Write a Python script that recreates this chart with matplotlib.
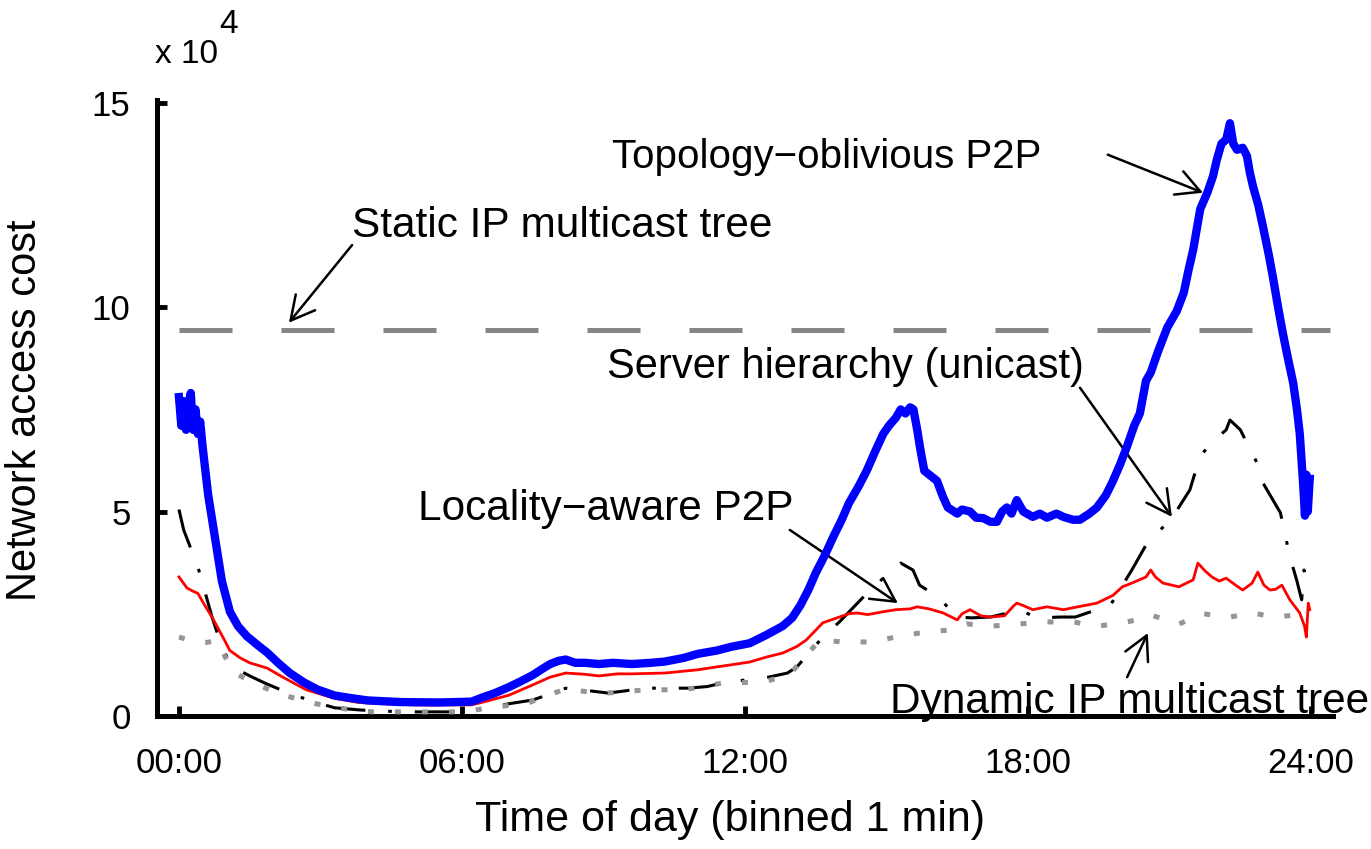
import matplotlib
matplotlib.use("Agg")
import matplotlib.pyplot as plt

plt.rcParams['font.family'] = ['Liberation Sans', 'DejaVu Sans']

# time of day in hours, network access cost in units of 1e4
t_topo = [0.0, 0.05, 0.1, 0.15, 0.2, 0.25, 0.3, 0.35, 0.4, 0.45, 0.5, 0.62, 0.8, 0.91, 1.08,
          1.25, 1.44, 1.65, 1.87, 2.1, 2.35, 2.65, 2.93, 3.3, 3.63, 4.0, 4.7, 5.5, 6.2, 6.45,
          6.7, 7.0, 7.25, 7.5, 7.7, 7.87, 8.05, 8.2, 8.4, 8.6, 8.9, 9.2, 9.6, 10.0, 10.3,
          10.7, 11.0, 11.4, 11.7, 12.1, 12.45, 12.8, 13.0, 13.17, 13.35, 13.5, 13.7, 13.87,
          14.05, 14.2, 14.4, 14.58, 14.75, 14.93, 15.05, 15.2, 15.3, 15.4, 15.5, 15.57,
          15.65, 15.72, 15.8, 16.07, 16.2, 16.3, 16.5, 16.6, 16.77, 16.9, 17.05, 17.2,
          17.34, 17.45, 17.55, 17.65, 17.76, 17.9, 18.1, 18.25, 18.4, 18.6, 18.75, 18.95,
          19.1, 19.3, 19.46, 19.65, 19.8, 19.95, 20.1, 20.25, 20.37, 20.5, 20.6, 20.75,
          20.95, 21.15, 21.3, 21.4, 21.5, 21.65, 21.8, 21.92, 22.0, 22.1, 22.2, 22.28,
          22.35, 22.43, 22.55, 22.64, 22.7, 22.77, 22.88, 22.98, 23.1, 23.19, 23.3, 23.4,
          23.5, 23.62, 23.7, 23.76, 23.83, 23.87, 23.9, 23.93, 23.97]
topo = [7.8, 7.1, 7.7, 7.0, 7.6, 7.9, 7.0, 7.5, 6.9, 7.2, 6.6, 5.4, 4.1, 3.3, 2.55,
        2.2, 1.95, 1.75, 1.55, 1.3, 1.05, 0.82, 0.65, 0.5, 0.44, 0.38, 0.34, 0.33, 0.35, 0.46,
        0.56, 0.71, 0.85, 1.0, 1.15, 1.27, 1.35, 1.38, 1.3, 1.3, 1.27, 1.3, 1.27, 1.3, 1.33,
        1.42, 1.52, 1.6, 1.69, 1.78, 1.98, 2.2, 2.4, 2.7, 3.1, 3.5, 3.95, 4.38,
        4.8, 5.2, 5.6, 6.0, 6.45, 6.9, 7.1, 7.3, 7.5, 7.4, 7.55, 7.5,
        7.0, 6.5, 6.0, 5.75, 5.35, 5.1, 4.95, 5.05, 5.0, 4.85, 4.84, 4.75,
        4.75, 5.0, 5.1, 4.95, 5.28, 5.0, 4.87, 4.95, 4.85, 4.95, 4.87, 4.8,
        4.8, 4.95, 5.1, 5.4, 5.75, 6.15, 6.6, 7.1, 7.4, 8.2, 8.4, 8.9,
        9.5, 9.9, 10.35, 10.9, 11.4, 12.4, 12.8, 13.2, 13.6, 14.0, 14.1, 14.5,
        14.0, 13.85, 13.9, 13.7, 13.3, 12.95, 12.5, 11.97, 11.3, 10.74, 10.0, 9.37,
        8.8, 8.15, 7.5, 6.9, 5.7, 4.9, 5.9, 5.0, 5.8]

t_local = [0.0, 0.17, 0.3, 0.4, 0.55, 0.7, 0.93, 1.08, 1.3, 1.5, 1.87, 2.2, 2.7, 3.27, 3.8,
           4.3, 5.0, 6.2, 6.45, 7.0, 7.5, 7.87, 8.2, 8.6, 8.9, 9.3, 9.6, 10.3, 11.0, 11.4,
           11.7, 12.1, 12.45, 12.8, 13.1, 13.3, 13.5, 13.65, 13.95, 14.2, 14.37, 14.6,
           14.93, 15.2, 15.5, 15.65, 15.9, 16.2, 16.5, 16.6, 16.77, 17.0, 17.2, 17.5, 17.7,
           17.76, 17.9, 18.1, 18.4, 18.75, 19.1, 19.46, 19.8, 20.0, 20.2, 20.5, 20.6, 20.7,
           20.86, 21.2, 21.5, 21.6, 21.75, 21.9, 22.05, 22.2, 22.4, 22.55, 22.75, 22.87,
           23.0, 23.13, 23.25, 23.38, 23.55, 23.76, 23.86, 23.9, 23.94, 23.97]
local = [3.4, 3.13, 3.05, 3.0, 2.7, 2.42, 1.93, 1.6, 1.42, 1.3, 1.17, 0.95, 0.64, 0.44, 0.33,
         0.3, 0.27, 0.27, 0.34, 0.51, 0.76, 0.95, 1.05, 1.02, 0.98, 1.03, 1.03, 1.05, 1.13, 1.2,
         1.25, 1.32, 1.44, 1.54, 1.7, 1.86, 2.1, 2.28, 2.4, 2.5, 2.52, 2.48,
         2.55, 2.6, 2.62, 2.67, 2.62, 2.52, 2.35, 2.5, 2.6, 2.45, 2.42, 2.45, 2.7,
         2.76, 2.7, 2.6, 2.67, 2.6, 2.68, 2.76, 2.95, 3.16, 3.25, 3.4, 3.57, 3.4,
         3.25, 3.16, 3.33, 3.74, 3.55, 3.4, 3.3, 3.37, 3.2, 3.08, 3.25, 3.52,
         3.2, 3.08, 3.1, 3.2, 2.84, 2.52, 2.2, 1.93, 2.76, 2.6]

t_server = [0.0, 0.1, 0.25, 0.4, 0.5, 0.7, 0.91, 1.08, 1.3, 1.5, 1.83, 2.2, 2.6, 3.0, 3.3,
            3.8, 4.2, 5.0, 5.9, 6.3, 6.6, 7.0, 7.5, 7.9, 8.2, 8.6, 9.1, 9.5, 9.8, 10.3, 10.8,
            11.2, 11.5, 12.0, 12.5, 12.9, 13.1, 13.4, 13.65, 14.0, 14.5, 15.0, 15.3, 15.56,
            15.7, 15.9, 16.1, 16.5, 16.8, 17.2, 17.5, 17.8, 18.2, 18.7, 19.0, 19.46, 19.74,
            19.95, 20.2, 20.5, 20.7, 21.05, 21.43, 21.58, 21.7, 22.0, 22.2, 22.28, 22.5,
            22.85, 22.98, 23.35, 23.45, 23.55, 23.7, 23.8, 23.85, 23.95]
server = [5.05, 4.55, 4.1, 3.65, 3.25, 2.42, 1.69, 1.3, 1.1, 0.98, 0.8, 0.62, 0.45, 0.3, 0.2,
          0.15, 0.12, 0.1, 0.1, 0.15, 0.22, 0.3, 0.39, 0.55, 0.68, 0.63, 0.56, 0.62, 0.68, 0.68, 0.68,
          0.72, 0.8, 0.88, 0.95, 1.05, 1.2, 1.6, 1.93, 2.3, 2.9, 3.45, 3.74, 3.57,
          3.2, 3.05, 2.9, 2.42, 2.4, 2.42, 2.5, 2.6, 2.4, 2.42, 2.42, 2.6, 2.7,
          3.1, 3.57, 4.18, 4.43, 4.84, 5.53, 6.1, 6.43, 6.8, 7.0, 7.24, 7.0,
          6.2, 5.7, 4.97, 4.43, 3.9, 3.3, 2.84, 3.57, 3.08]

t_dyn = [0.0, 0.38, 0.6, 0.8, 1.0, 1.15, 1.5, 1.78, 2.1, 2.5, 2.9, 3.27, 3.7, 4.1, 5.0,
         6.0, 6.3, 6.6, 7.0, 7.45, 7.8, 8.2, 8.6, 9.07, 9.5, 9.9, 10.7, 11.1, 11.5, 12.0,
         12.4, 12.75, 13.0, 13.3, 13.6, 14.08, 14.65, 15.2, 15.7, 16.3, 16.7, 17.25, 17.8,
         18.4, 18.95, 19.5, 20.0, 20.3, 20.6, 21.2, 21.7, 22.28, 22.77, 23.2, 23.7, 23.95]
dyn = [1.93, 1.8, 1.8, 1.85, 1.4, 1.08, 0.85, 0.71, 0.55, 0.42, 0.3, 0.22, 0.14, 0.1, 0.1,
       0.1, 0.15, 0.2, 0.26, 0.34, 0.5, 0.66, 0.6, 0.56, 0.6, 0.64, 0.64, 0.72, 0.8, 0.82,
       0.83, 0.95, 1.08, 1.5, 1.86, 1.81, 1.81, 1.93, 2.03, 2.1, 2.25, 2.2, 2.25,
       2.3, 2.3, 2.2, 2.28, 2.35, 2.47, 2.25, 2.5, 2.42, 2.52, 2.42, 2.47, 2.45]

static_level = 9.45

x_ticks = [0, 6, 12, 18, 24]
x_ticklabels = ['00:00', '06:00', '12:00', '18:00', '24:00']
y_ticks = [0, 5, 10, 15]

fig = plt.figure(figsize=(13.71, 8.49), dpi=100)
ax = fig.add_axes([0.1145, 0.1567, 0.8578, 0.7256])

# static tree (flat dashed line)
ax.plot([0, 24.4], [static_level, static_level], color='#858585', lw=3.6,
        dashes=(10.6, 9.8), zorder=2)
# server hierarchy
ax.plot(t_server, server, color='black', lw=2.2, dashes=(13, 7.5, 1.2, 7.5),
        zorder=3)
# dynamic tree
ax.plot(t_dyn, dyn, color='#959595', lw=3.6, dashes=(1.2, 4.2), zorder=4)
# locality aware
ax.plot(t_local, local, color='#ff0000', lw=2.0, zorder=5)
# topology oblivious
ax.plot(t_topo, topo, color='#0000ff', lw=6.0, solid_joinstyle='round', zorder=6)

ax.set_xlim(-0.466, 24.465)
ax.set_ylim(0, 15.07)
ax.set_xticks(x_ticks)
ax.set_xticklabels(x_ticklabels)
ax.set_yticks(y_ticks)

for side in ['top', 'right']:
    ax.spines[side].set_visible(False)
for side in ['left', 'bottom']:
    ax.spines[side].set_linewidth(3.6)
ax.tick_params(direction='in', length=7.5, width=3.5, labelsize=25)
ax.tick_params(axis='x', pad=22)
ax.tick_params(axis='y', pad=19)

ax.set_xlabel('Time of day (binned 1 min)', fontsize=31)
ax.set_ylabel('Network access cost', fontsize=30)
ax.xaxis.set_label_coords(0.487, -0.137)
ax.yaxis.set_label_coords(-0.095, 0.497)

fig.text(155 / 1371, 1 - 63 / 849, 'x 10', fontsize=24, ha='left', va='baseline')
fig.text(219 / 1371, 1 - 33 / 849, '4', fontsize=24, ha='left', va='baseline')

arrow = dict(arrowstyle='->,head_length=0.85,head_width=0.45', color='black', lw=1.8,
             mutation_scale=20, shrinkA=0, shrinkB=0)

ax.text(3.67, 11.72, 'Static IP multicast tree', fontsize=30.5, va='baseline')
ax.annotate('', xy=(2.33, 9.62), xytext=(3.67, 11.52), arrowprops=arrow)

ax.text(9.18, 13.41, 'Topology\u2212oblivious P2P', fontsize=29, va='baseline')
ax.annotate('', xy=(21.71, 12.8), xytext=(19.69, 13.73), arrowprops=arrow)

ax.text(9.07, 8.27, 'Server hierarchy (unicast)', fontsize=30, va='baseline')
ax.annotate('', xy=(21.05, 4.87), xytext=(19.1, 8.03), arrowprops=arrow)

ax.text(5.07, 4.80, 'Locality\u2212aware P2P', fontsize=30.5, va='baseline')
ax.annotate('', xy=(15.24, 2.76), xytext=(12.95, 4.55), arrowprops=arrow)

ax.text(15.07, 0.07, 'Dynamic IP multicast tree', fontsize=30.5, va='baseline', zorder=10)
ax.annotate('', xy=(20.54, 2.03), xytext=(20.1, 0.95), arrowprops=arrow)

fig.savefig('out.png', dpi=100)
